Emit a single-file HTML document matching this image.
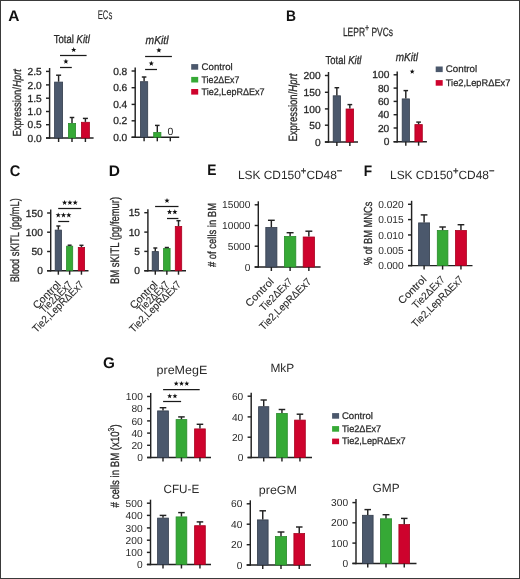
<!DOCTYPE html>
<html><head><meta charset="utf-8"><style>
html,body{margin:0;padding:0;background:#fff;}
svg{display:block;font-family:"Liberation Sans", sans-serif;text-rendering:geometricPrecision;will-change:transform;}
text{stroke:#2a2a2a;stroke-width:0.3px;}
text[font-weight=bold]{stroke:none;}
</style></head><body>
<svg width="520" height="579" viewBox="0 0 520 579">
<rect x="0" y="0" width="520" height="579" fill="#fff"/>
<text x="8.3" y="21.0" font-size="15.3" text-anchor="start" fill="#111" font-weight="bold" textLength="11.2" lengthAdjust="spacingAndGlyphs">A</text>
<text x="97.7" y="19.1" font-size="12.5" text-anchor="start" fill="#2a2a2a" textLength="14.6" lengthAdjust="spacingAndGlyphs" style="stroke-width:0.1px">ECs</text>
<text x="53.8" y="43.3" font-size="11.6" text-anchor="start" fill="#2a2a2a" textLength="36" lengthAdjust="spacingAndGlyphs">Total <tspan font-style="italic">Kitl</tspan></text>
<line x1="49.6" y1="68" x2="49.6" y2="138.725" stroke="#222" stroke-width="1.45"/>
<line x1="46.0" y1="138" x2="93.6" y2="138" stroke="#222" stroke-width="1.45"/>
<line x1="46.0" y1="71.4" x2="49.6" y2="71.4" stroke="#222" stroke-width="1.45"/>
<text x="41.7" y="75.072" font-size="10.2" text-anchor="end" fill="#2a2a2a">2.5</text>
<line x1="46.0" y1="84.9" x2="49.6" y2="84.9" stroke="#222" stroke-width="1.45"/>
<text x="41.7" y="88.572" font-size="10.2" text-anchor="end" fill="#2a2a2a">2.0</text>
<line x1="46.0" y1="98.2" x2="49.6" y2="98.2" stroke="#222" stroke-width="1.45"/>
<text x="41.7" y="101.872" font-size="10.2" text-anchor="end" fill="#2a2a2a">1.5</text>
<line x1="46.0" y1="111.5" x2="49.6" y2="111.5" stroke="#222" stroke-width="1.45"/>
<text x="41.7" y="115.172" font-size="10.2" text-anchor="end" fill="#2a2a2a">1.0</text>
<line x1="46.0" y1="124.7" x2="49.6" y2="124.7" stroke="#222" stroke-width="1.45"/>
<text x="41.7" y="128.372" font-size="10.2" text-anchor="end" fill="#2a2a2a">0.5</text>
<line x1="46.0" y1="138" x2="49.6" y2="138" stroke="#222" stroke-width="1.45"/>
<text x="41.7" y="141.672" font-size="10.2" text-anchor="end" fill="#2a2a2a">0.0</text>
<rect x="54.60" y="82.10" width="8.00" height="55.90" fill="#4b586c" stroke="#333c4c" stroke-width="0.8"/>
<line x1="58.6" y1="75.2" x2="58.6" y2="81.7" stroke="#222" stroke-width="1.45"/>
<line x1="56.092" y1="75.2" x2="61.108000000000004" y2="75.2" stroke="#222" stroke-width="1.45"/>
<line x1="58.6" y1="138" x2="58.6" y2="142.0" stroke="#222" stroke-width="1.45"/>
<rect x="68.40" y="123.40" width="7.20" height="14.60" fill="#36a936" stroke="#2a8a2c" stroke-width="0.8"/>
<line x1="72.0" y1="117.5" x2="72.0" y2="123" stroke="#222" stroke-width="1.45"/>
<line x1="69.72" y1="117.5" x2="74.28" y2="117.5" stroke="#222" stroke-width="1.45"/>
<line x1="72.0" y1="138" x2="72.0" y2="142.0" stroke="#222" stroke-width="1.45"/>
<rect x="81.40" y="122.30" width="8.00" height="15.70" fill="#ce032d" stroke="#a8021f" stroke-width="0.8"/>
<line x1="85.4" y1="118.4" x2="85.4" y2="121.9" stroke="#222" stroke-width="1.45"/>
<line x1="82.89200000000001" y1="118.4" x2="87.908" y2="118.4" stroke="#222" stroke-width="1.45"/>
<line x1="85.4" y1="138" x2="85.4" y2="142.0" stroke="#222" stroke-width="1.45"/>
<line x1="60" y1="55.5" x2="86.6" y2="55.5" stroke="#1a1a1a" stroke-width="1.25"/>
<polygon points="73.70,47.12 74.38,48.94 76.32,49.03 74.80,50.23 75.32,52.10 73.70,51.03 72.08,52.10 72.60,50.23 71.08,49.03 73.02,48.94" fill="#111"/>
<line x1="60" y1="67.5" x2="71.8" y2="67.5" stroke="#1a1a1a" stroke-width="1.25"/>
<polygon points="65.90,58.73 66.58,60.54 68.52,60.63 67.00,61.83 67.52,63.70 65.90,62.63 64.28,63.70 64.80,61.83 63.28,60.63 65.22,60.54" fill="#111"/>
<text transform="translate(16.5,102.8) rotate(-90)" x="-33.75" y="4.095" font-size="11.7" fill="#2a2a2a" textLength="67.5" lengthAdjust="spacingAndGlyphs">Expression/<tspan font-style="italic">Hprt</tspan></text>
<text x="145.6" y="43.7" font-size="11.6" text-anchor="start" fill="#2a2a2a" font-style="italic" textLength="22.9" lengthAdjust="spacingAndGlyphs">mKitl</text>
<line x1="135.2" y1="67.5" x2="135.2" y2="138.025" stroke="#222" stroke-width="1.45"/>
<line x1="131.6" y1="137.3" x2="179.2" y2="137.3" stroke="#222" stroke-width="1.45"/>
<line x1="131.6" y1="71" x2="135.2" y2="71" stroke="#222" stroke-width="1.45"/>
<text x="127.3" y="74.672" font-size="10.2" text-anchor="end" fill="#2a2a2a">0.8</text>
<line x1="131.6" y1="87.7" x2="135.2" y2="87.7" stroke="#222" stroke-width="1.45"/>
<text x="127.3" y="91.372" font-size="10.2" text-anchor="end" fill="#2a2a2a">0.6</text>
<line x1="131.6" y1="104.4" x2="135.2" y2="104.4" stroke="#222" stroke-width="1.45"/>
<text x="127.3" y="108.072" font-size="10.2" text-anchor="end" fill="#2a2a2a">0.4</text>
<line x1="131.6" y1="120.8" x2="135.2" y2="120.8" stroke="#222" stroke-width="1.45"/>
<text x="127.3" y="124.472" font-size="10.2" text-anchor="end" fill="#2a2a2a">0.2</text>
<line x1="131.6" y1="137.3" x2="135.2" y2="137.3" stroke="#222" stroke-width="1.45"/>
<text x="127.3" y="140.972" font-size="10.2" text-anchor="end" fill="#2a2a2a">0.0</text>
<rect x="140.50" y="81.70" width="7.20" height="55.60" fill="#4b586c" stroke="#333c4c" stroke-width="0.8"/>
<line x1="144.1" y1="77" x2="144.1" y2="81.3" stroke="#222" stroke-width="1.45"/>
<line x1="141.82" y1="77" x2="146.38" y2="77" stroke="#222" stroke-width="1.45"/>
<line x1="144.1" y1="137.3" x2="144.1" y2="141.3" stroke="#222" stroke-width="1.45"/>
<rect x="153.70" y="132.50" width="7.20" height="4.80" fill="#36a936" stroke="#2a8a2c" stroke-width="0.8"/>
<line x1="157.3" y1="125.4" x2="157.3" y2="132.1" stroke="#222" stroke-width="1.45"/>
<line x1="155.02" y1="125.4" x2="159.58" y2="125.4" stroke="#222" stroke-width="1.45"/>
<line x1="157.3" y1="137.3" x2="157.3" y2="141.3" stroke="#222" stroke-width="1.45"/>
<line x1="170.3" y1="137.3" x2="170.3" y2="141.3" stroke="#222" stroke-width="1.45"/>
<text x="170.5" y="135.2" font-size="10.5" text-anchor="middle" fill="#2a2a2a" style="stroke:none">0</text>
<line x1="145.1" y1="56.5" x2="171.9" y2="56.5" stroke="#1a1a1a" stroke-width="1.25"/>
<polygon points="158.90,47.52 159.58,49.34 161.52,49.43 160.00,50.63 160.52,52.50 158.90,51.43 157.28,52.50 157.80,50.63 156.28,49.43 158.22,49.34" fill="#111"/>
<line x1="145.1" y1="69.5" x2="157" y2="69.5" stroke="#1a1a1a" stroke-width="1.25"/>
<polygon points="151.30,60.73 151.98,62.54 153.92,62.63 152.40,63.83 152.92,65.70 151.30,64.63 149.68,65.70 150.20,63.83 148.68,62.63 150.62,62.54" fill="#111"/>
<rect x="191.2" y="64.10000000000001" width="7" height="5.6" fill="#4b586c"/>
<text x="201.6" y="69.9" font-size="9.6" text-anchor="start" fill="#2a2a2a" textLength="31.1" lengthAdjust="spacingAndGlyphs" style="stroke-width:0.25px">Control</text>
<rect x="191.2" y="76.9" width="7" height="5.6" fill="#36a936"/>
<text x="201.6" y="82.7" font-size="9.6" text-anchor="start" fill="#2a2a2a" textLength="37.7" lengthAdjust="spacingAndGlyphs" style="stroke-width:0.25px">Tie2ΔEx7</text>
<rect x="191.2" y="89.0" width="7" height="5.6" fill="#ce032d"/>
<text x="201.6" y="94.8" font-size="9.6" text-anchor="start" fill="#2a2a2a" textLength="63" lengthAdjust="spacingAndGlyphs" style="stroke-width:0.25px">Tie2,LepRΔEx7</text>
<text x="285.9" y="21.1" font-size="15.3" text-anchor="start" fill="#111" font-weight="bold" textLength="10" lengthAdjust="spacingAndGlyphs">B</text>
<text x="342.9" y="36.1" font-size="12" text-anchor="start" fill="#2a2a2a" textLength="50.2" lengthAdjust="spacingAndGlyphs" style="stroke-width:0.25px">LEPR<tspan dy="-4.6" font-size="10">+</tspan><tspan dy="4.6"> PVCs</tspan></text>
<text x="325.6" y="64.4" font-size="11.6" text-anchor="start" fill="#2a2a2a" textLength="35.8" lengthAdjust="spacingAndGlyphs">Total <tspan font-style="italic">Kitl</tspan></text>
<line x1="328.5" y1="72" x2="328.5" y2="142.725" stroke="#222" stroke-width="1.45"/>
<line x1="324.9" y1="142" x2="358" y2="142" stroke="#222" stroke-width="1.45"/>
<line x1="324.9" y1="75.5" x2="328.5" y2="75.5" stroke="#222" stroke-width="1.45"/>
<text x="320.59999999999997" y="79.172" font-size="10.2" text-anchor="end" fill="#2a2a2a">200</text>
<line x1="324.9" y1="92.3" x2="328.5" y2="92.3" stroke="#222" stroke-width="1.45"/>
<text x="320.59999999999997" y="95.972" font-size="10.2" text-anchor="end" fill="#2a2a2a">150</text>
<line x1="324.9" y1="108.9" x2="328.5" y2="108.9" stroke="#222" stroke-width="1.45"/>
<text x="320.59999999999997" y="112.572" font-size="10.2" text-anchor="end" fill="#2a2a2a">100</text>
<line x1="324.9" y1="125.2" x2="328.5" y2="125.2" stroke="#222" stroke-width="1.45"/>
<text x="320.59999999999997" y="128.872" font-size="10.2" text-anchor="end" fill="#2a2a2a">50</text>
<line x1="324.9" y1="142" x2="328.5" y2="142" stroke="#222" stroke-width="1.45"/>
<text x="320.59999999999997" y="145.672" font-size="10.2" text-anchor="end" fill="#2a2a2a">0</text>
<rect x="333.20" y="95.80" width="7.30" height="46.20" fill="#4b586c" stroke="#333c4c" stroke-width="0.8"/>
<line x1="336.85" y1="87.7" x2="336.85" y2="95.4" stroke="#222" stroke-width="1.45"/>
<line x1="334.54150000000004" y1="87.7" x2="339.1585" y2="87.7" stroke="#222" stroke-width="1.45"/>
<line x1="336.85" y1="142" x2="336.85" y2="146.0" stroke="#222" stroke-width="1.45"/>
<rect x="346.10" y="109.00" width="7.50" height="33.00" fill="#ce032d" stroke="#a8021f" stroke-width="0.8"/>
<line x1="349.85" y1="104.6" x2="349.85" y2="108.6" stroke="#222" stroke-width="1.45"/>
<line x1="347.4845" y1="104.6" x2="352.2155" y2="104.6" stroke="#222" stroke-width="1.45"/>
<line x1="349.85" y1="142" x2="349.85" y2="146.0" stroke="#222" stroke-width="1.45"/>
<text transform="translate(292.4,107.6) rotate(-90)" x="-34.0" y="4.199999999999999" font-size="12" fill="#2a2a2a" textLength="68" lengthAdjust="spacingAndGlyphs">Expression/<tspan font-style="italic">Hprt</tspan></text>
<text x="395.8" y="61.3" font-size="11.6" text-anchor="start" fill="#2a2a2a" font-style="italic" textLength="22.2" lengthAdjust="spacingAndGlyphs">mKitl</text>
<line x1="397.2" y1="71.4" x2="397.2" y2="142.42499999999998" stroke="#222" stroke-width="1.45"/>
<line x1="393.59999999999997" y1="141.7" x2="426.9" y2="141.7" stroke="#222" stroke-width="1.45"/>
<line x1="393.59999999999997" y1="74.8" x2="397.2" y2="74.8" stroke="#222" stroke-width="1.45"/>
<text x="389.29999999999995" y="78.472" font-size="10.2" text-anchor="end" fill="#2a2a2a">100</text>
<line x1="393.59999999999997" y1="88.1" x2="397.2" y2="88.1" stroke="#222" stroke-width="1.45"/>
<text x="389.29999999999995" y="91.77199999999999" font-size="10.2" text-anchor="end" fill="#2a2a2a">80</text>
<line x1="393.59999999999997" y1="101.4" x2="397.2" y2="101.4" stroke="#222" stroke-width="1.45"/>
<text x="389.29999999999995" y="105.072" font-size="10.2" text-anchor="end" fill="#2a2a2a">60</text>
<line x1="393.59999999999997" y1="114.7" x2="397.2" y2="114.7" stroke="#222" stroke-width="1.45"/>
<text x="389.29999999999995" y="118.372" font-size="10.2" text-anchor="end" fill="#2a2a2a">40</text>
<line x1="393.59999999999997" y1="128" x2="397.2" y2="128" stroke="#222" stroke-width="1.45"/>
<text x="389.29999999999995" y="131.672" font-size="10.2" text-anchor="end" fill="#2a2a2a">20</text>
<line x1="393.59999999999997" y1="141.7" x2="397.2" y2="141.7" stroke="#222" stroke-width="1.45"/>
<text x="389.29999999999995" y="145.37199999999999" font-size="10.2" text-anchor="end" fill="#2a2a2a">0</text>
<rect x="402.20" y="98.90" width="7.20" height="42.80" fill="#4b586c" stroke="#333c4c" stroke-width="0.8"/>
<line x1="405.8" y1="90.6" x2="405.8" y2="98.5" stroke="#222" stroke-width="1.45"/>
<line x1="403.52000000000004" y1="90.6" x2="408.08" y2="90.6" stroke="#222" stroke-width="1.45"/>
<line x1="405.8" y1="141.7" x2="405.8" y2="145.7" stroke="#222" stroke-width="1.45"/>
<rect x="414.90" y="124.60" width="7.40" height="17.10" fill="#ce032d" stroke="#a8021f" stroke-width="0.8"/>
<line x1="418.6" y1="122.1" x2="418.6" y2="124.2" stroke="#222" stroke-width="1.45"/>
<line x1="416.26300000000003" y1="122.1" x2="420.937" y2="122.1" stroke="#222" stroke-width="1.45"/>
<line x1="418.6" y1="141.7" x2="418.6" y2="145.7" stroke="#222" stroke-width="1.45"/>
<polygon points="412.20,68.96 412.84,70.68 414.67,70.76 413.24,71.90 413.73,73.66 412.20,72.65 410.67,73.66 411.16,71.90 409.73,70.76 411.56,70.68" fill="#111"/>
<rect x="435.7" y="66.5" width="7" height="5.6" fill="#4b586c"/>
<text x="445.8" y="72.3" font-size="9.6" text-anchor="start" fill="#2a2a2a" textLength="31.4" lengthAdjust="spacingAndGlyphs" style="stroke-width:0.25px">Control</text>
<rect x="435.7" y="80.10000000000001" width="7" height="5.6" fill="#ce032d"/>
<text x="445.8" y="85.9" font-size="9.6" text-anchor="start" fill="#2a2a2a" textLength="64.6" lengthAdjust="spacingAndGlyphs" style="stroke-width:0.25px">Tie2,LepRΔEx7</text>
<text x="9.7" y="175.7" font-size="15.3" text-anchor="start" fill="#111" font-weight="bold" textLength="10.6" lengthAdjust="spacingAndGlyphs">C</text>
<line x1="50.7" y1="209.5" x2="50.7" y2="271.425" stroke="#222" stroke-width="1.45"/>
<line x1="47.1" y1="270.7" x2="88.5" y2="270.7" stroke="#222" stroke-width="1.45"/>
<line x1="47.1" y1="213" x2="50.7" y2="213" stroke="#222" stroke-width="1.45"/>
<text x="42.800000000000004" y="216.672" font-size="10.2" text-anchor="end" fill="#2a2a2a">150</text>
<line x1="47.1" y1="232.2" x2="50.7" y2="232.2" stroke="#222" stroke-width="1.45"/>
<text x="42.800000000000004" y="235.87199999999999" font-size="10.2" text-anchor="end" fill="#2a2a2a">100</text>
<line x1="47.1" y1="251.5" x2="50.7" y2="251.5" stroke="#222" stroke-width="1.45"/>
<text x="42.800000000000004" y="255.172" font-size="10.2" text-anchor="end" fill="#2a2a2a">50</text>
<line x1="47.1" y1="270.7" x2="50.7" y2="270.7" stroke="#222" stroke-width="1.45"/>
<text x="42.800000000000004" y="274.372" font-size="10.2" text-anchor="end" fill="#2a2a2a">0</text>
<rect x="55.20" y="230.10" width="6.30" height="40.60" fill="#4b586c" stroke="#333c4c" stroke-width="0.8"/>
<line x1="58.349999999999994" y1="226" x2="58.349999999999994" y2="229.7" stroke="#222" stroke-width="1.45"/>
<line x1="56.326499999999996" y1="226" x2="60.37349999999999" y2="226" stroke="#222" stroke-width="1.45"/>
<line x1="58.349999999999994" y1="270.7" x2="58.349999999999994" y2="274.7" stroke="#222" stroke-width="1.45"/>
<rect x="66.60" y="246.20" width="6.10" height="24.50" fill="#36a936" stroke="#2a8a2c" stroke-width="0.8"/>
<line x1="69.65" y1="245.2" x2="69.65" y2="245.8" stroke="#222" stroke-width="1.45"/>
<line x1="67.68350000000001" y1="245.2" x2="71.6165" y2="245.2" stroke="#222" stroke-width="1.45"/>
<line x1="69.65" y1="270.7" x2="69.65" y2="274.7" stroke="#222" stroke-width="1.45"/>
<rect x="78.30" y="247.50" width="6.30" height="23.20" fill="#ce032d" stroke="#a8021f" stroke-width="0.8"/>
<line x1="81.45" y1="245.3" x2="81.45" y2="247.1" stroke="#222" stroke-width="1.45"/>
<line x1="79.4265" y1="245.3" x2="83.4735" y2="245.3" stroke="#222" stroke-width="1.45"/>
<line x1="81.45" y1="270.7" x2="81.45" y2="274.7" stroke="#222" stroke-width="1.45"/>
<line x1="58.2" y1="208.5" x2="81.2" y2="208.5" stroke="#1a1a1a" stroke-width="1.25"/>
<polygon points="64.60,199.93 65.28,201.74 67.22,201.83 65.70,203.03 66.22,204.90 64.60,203.83 62.98,204.90 63.50,203.03 61.98,201.83 63.92,201.74" fill="#111"/>
<polygon points="69.90,199.93 70.58,201.74 72.52,201.83 71.00,203.03 71.52,204.90 69.90,203.83 68.28,204.90 68.80,203.03 67.28,201.83 69.22,201.74" fill="#111"/>
<polygon points="75.20,199.93 75.88,201.74 77.82,201.83 76.30,203.03 76.82,204.90 75.20,203.83 73.58,204.90 74.10,203.03 72.58,201.83 74.52,201.74" fill="#111"/>
<line x1="58.2" y1="221.5" x2="69.2" y2="221.5" stroke="#1a1a1a" stroke-width="1.25"/>
<polygon points="58.20,212.43 58.88,214.24 60.82,214.33 59.30,215.53 59.82,217.40 58.20,216.33 56.58,217.40 57.10,215.53 55.58,214.33 57.52,214.24" fill="#111"/>
<polygon points="63.50,212.43 64.18,214.24 66.12,214.33 64.60,215.53 65.12,217.40 63.50,216.33 61.88,217.40 62.40,215.53 60.88,214.33 62.82,214.24" fill="#111"/>
<polygon points="68.80,212.43 69.48,214.24 71.42,214.33 69.90,215.53 70.42,217.40 68.80,216.33 67.18,217.40 67.70,215.53 66.18,214.33 68.12,214.24" fill="#111"/>
<text transform="translate(14.7,240.3) rotate(-90)" x="-42.0" y="4.34" font-size="12.4" fill="#2a2a2a" textLength="84" lengthAdjust="spacingAndGlyphs">Blood sKITL (pg/mL)</text>
<text x="108.8" y="175.5" font-size="15.3" text-anchor="start" fill="#111" font-weight="bold" textLength="11.2" lengthAdjust="spacingAndGlyphs">D</text>
<line x1="147.9" y1="209.2" x2="147.9" y2="271.425" stroke="#222" stroke-width="1.45"/>
<line x1="144.3" y1="270.7" x2="186" y2="270.7" stroke="#222" stroke-width="1.45"/>
<line x1="144.3" y1="212.7" x2="147.9" y2="212.7" stroke="#222" stroke-width="1.45"/>
<text x="140.0" y="216.37199999999999" font-size="10.2" text-anchor="end" fill="#2a2a2a">15</text>
<line x1="144.3" y1="232.1" x2="147.9" y2="232.1" stroke="#222" stroke-width="1.45"/>
<text x="140.0" y="235.772" font-size="10.2" text-anchor="end" fill="#2a2a2a">10</text>
<line x1="144.3" y1="251.4" x2="147.9" y2="251.4" stroke="#222" stroke-width="1.45"/>
<text x="140.0" y="255.072" font-size="10.2" text-anchor="end" fill="#2a2a2a">5</text>
<line x1="144.3" y1="270.7" x2="147.9" y2="270.7" stroke="#222" stroke-width="1.45"/>
<text x="140.0" y="274.372" font-size="10.2" text-anchor="end" fill="#2a2a2a">0</text>
<rect x="152.20" y="251.60" width="6.20" height="19.10" fill="#4b586c" stroke="#333c4c" stroke-width="0.8"/>
<line x1="155.3" y1="248" x2="155.3" y2="251.2" stroke="#222" stroke-width="1.45"/>
<line x1="153.305" y1="248" x2="157.29500000000002" y2="248" stroke="#222" stroke-width="1.45"/>
<line x1="155.3" y1="270.7" x2="155.3" y2="274.7" stroke="#222" stroke-width="1.45"/>
<rect x="163.60" y="248.50" width="6.50" height="22.20" fill="#36a936" stroke="#2a8a2c" stroke-width="0.8"/>
<line x1="166.85" y1="247.5" x2="166.85" y2="248.1" stroke="#222" stroke-width="1.45"/>
<line x1="164.7695" y1="247.5" x2="168.9305" y2="247.5" stroke="#222" stroke-width="1.45"/>
<line x1="166.85" y1="270.7" x2="166.85" y2="274.7" stroke="#222" stroke-width="1.45"/>
<rect x="175.30" y="226.50" width="6.40" height="44.20" fill="#ce032d" stroke="#a8021f" stroke-width="0.8"/>
<line x1="178.5" y1="220.7" x2="178.5" y2="226.1" stroke="#222" stroke-width="1.45"/>
<line x1="176.448" y1="220.7" x2="180.552" y2="220.7" stroke="#222" stroke-width="1.45"/>
<line x1="178.5" y1="270.7" x2="178.5" y2="274.7" stroke="#222" stroke-width="1.45"/>
<line x1="155.1" y1="206.5" x2="178.5" y2="206.5" stroke="#1a1a1a" stroke-width="1.25"/>
<polygon points="167.00,197.93 167.68,199.74 169.62,199.83 168.10,201.03 168.62,202.90 167.00,201.83 165.38,202.90 165.90,201.03 164.38,199.83 166.32,199.74" fill="#111"/>
<line x1="167" y1="218.5" x2="178.4" y2="218.5" stroke="#1a1a1a" stroke-width="1.25"/>
<polygon points="169.55,209.22 170.23,211.04 172.17,211.13 170.65,212.33 171.17,214.20 169.55,213.13 167.93,214.20 168.45,212.33 166.93,211.13 168.87,211.04" fill="#111"/>
<polygon points="174.85,209.22 175.53,211.04 177.47,211.13 175.95,212.33 176.47,214.20 174.85,213.13 173.23,214.20 173.75,212.33 172.23,211.13 174.17,211.04" fill="#111"/>
<text transform="translate(114.65,240.4) rotate(-90)" x="-43.5" y="4.34" font-size="12.4" fill="#2a2a2a" textLength="87" lengthAdjust="spacingAndGlyphs">BM sKITL (pg/femur)</text>
<text x="207.3" y="175.4" font-size="15.3" text-anchor="start" fill="#111" font-weight="bold" textLength="9.2" lengthAdjust="spacingAndGlyphs">E</text>
<text x="237.9" y="178.6" font-size="12" text-anchor="start" fill="#2a2a2a" textLength="104.5" lengthAdjust="spacingAndGlyphs" style="stroke:none">LSK CD150<tspan dy="-4.3" font-size="9.5" style="stroke:#2a2a2a;stroke-width:0.3px">+</tspan><tspan dy="4.3">CD48</tspan><tspan dy="-4.3" font-size="9.5" style="stroke:#2a2a2a;stroke-width:0.35px">−</tspan></text>
<line x1="258.3" y1="201.3" x2="258.3" y2="267.725" stroke="#222" stroke-width="1.45"/>
<line x1="254.70000000000002" y1="267" x2="320.6" y2="267" stroke="#222" stroke-width="1.45"/>
<line x1="254.70000000000002" y1="204.8" x2="258.3" y2="204.8" stroke="#222" stroke-width="1.45"/>
<text x="250.4" y="208.472" font-size="10.2" text-anchor="end" fill="#2a2a2a" style="stroke:none">15000</text>
<line x1="254.70000000000002" y1="225.5" x2="258.3" y2="225.5" stroke="#222" stroke-width="1.45"/>
<text x="250.4" y="229.172" font-size="10.2" text-anchor="end" fill="#2a2a2a" style="stroke:none">10000</text>
<line x1="254.70000000000002" y1="246.2" x2="258.3" y2="246.2" stroke="#222" stroke-width="1.45"/>
<text x="250.4" y="249.87199999999999" font-size="10.2" text-anchor="end" fill="#2a2a2a" style="stroke:none">5000</text>
<line x1="254.70000000000002" y1="267" x2="258.3" y2="267" stroke="#222" stroke-width="1.45"/>
<text x="250.4" y="270.672" font-size="10.2" text-anchor="end" fill="#2a2a2a" style="stroke:none">0</text>
<rect x="265.80" y="227.50" width="11.10" height="39.50" fill="#4b586c" stroke="#333c4c" stroke-width="0.8"/>
<line x1="271.35" y1="220.3" x2="271.35" y2="227.1" stroke="#222" stroke-width="1.45"/>
<line x1="267.9585" y1="220.3" x2="274.74150000000003" y2="220.3" stroke="#222" stroke-width="1.45"/>
<line x1="271.35" y1="267" x2="271.35" y2="271.0" stroke="#222" stroke-width="1.45"/>
<rect x="284.40" y="236.40" width="11.40" height="30.60" fill="#36a936" stroke="#2a8a2c" stroke-width="0.8"/>
<line x1="290.1" y1="232.7" x2="290.1" y2="236" stroke="#222" stroke-width="1.45"/>
<line x1="286.62300000000005" y1="232.7" x2="293.577" y2="232.7" stroke="#222" stroke-width="1.45"/>
<line x1="290.1" y1="267" x2="290.1" y2="271.0" stroke="#222" stroke-width="1.45"/>
<rect x="303.20" y="237.00" width="11.30" height="30.00" fill="#ce032d" stroke="#a8021f" stroke-width="0.8"/>
<line x1="308.85" y1="231.2" x2="308.85" y2="236.6" stroke="#222" stroke-width="1.45"/>
<line x1="305.40150000000006" y1="231.2" x2="312.2985" y2="231.2" stroke="#222" stroke-width="1.45"/>
<line x1="308.85" y1="267" x2="308.85" y2="271.0" stroke="#222" stroke-width="1.45"/>
<text transform="translate(211.4,235.0) rotate(-90)" x="-32.0" y="4.095" font-size="11.7" fill="#2a2a2a" textLength="64" lengthAdjust="spacingAndGlyphs"># of cells in BM</text>
<text x="363.7" y="175.9" font-size="15.3" text-anchor="start" fill="#111" font-weight="bold" textLength="8.4" lengthAdjust="spacingAndGlyphs">F</text>
<text x="390.0" y="178.5" font-size="12" text-anchor="start" fill="#2a2a2a" textLength="104.5" lengthAdjust="spacingAndGlyphs" style="stroke:none">LSK CD150<tspan dy="-4.3" font-size="9.5" style="stroke:#2a2a2a;stroke-width:0.3px">+</tspan><tspan dy="4.3">CD48</tspan><tspan dy="-4.3" font-size="9.5" style="stroke:#2a2a2a;stroke-width:0.35px">−</tspan></text>
<line x1="411.6" y1="200.8" x2="411.6" y2="266.32500000000005" stroke="#222" stroke-width="1.45"/>
<line x1="408.0" y1="265.6" x2="472.5" y2="265.6" stroke="#222" stroke-width="1.45"/>
<line x1="408.0" y1="204.3" x2="411.6" y2="204.3" stroke="#222" stroke-width="1.45"/>
<text x="403.7" y="207.972" font-size="10.2" text-anchor="end" fill="#2a2a2a" style="stroke:none">0.020</text>
<line x1="408.0" y1="219.6" x2="411.6" y2="219.6" stroke="#222" stroke-width="1.45"/>
<text x="403.7" y="223.272" font-size="10.2" text-anchor="end" fill="#2a2a2a" style="stroke:none">0.015</text>
<line x1="408.0" y1="234.95" x2="411.6" y2="234.95" stroke="#222" stroke-width="1.45"/>
<text x="403.7" y="238.62199999999999" font-size="10.2" text-anchor="end" fill="#2a2a2a" style="stroke:none">0.010</text>
<line x1="408.0" y1="250.3" x2="411.6" y2="250.3" stroke="#222" stroke-width="1.45"/>
<text x="403.7" y="253.972" font-size="10.2" text-anchor="end" fill="#2a2a2a" style="stroke:none">0.005</text>
<line x1="408.0" y1="265.6" x2="411.6" y2="265.6" stroke="#222" stroke-width="1.45"/>
<text x="403.7" y="269.27200000000005" font-size="10.2" text-anchor="end" fill="#2a2a2a" style="stroke:none">0.000</text>
<rect x="418.60" y="222.90" width="11.00" height="42.70" fill="#4b586c" stroke="#333c4c" stroke-width="0.8"/>
<line x1="424.1" y1="214.9" x2="424.1" y2="222.5" stroke="#222" stroke-width="1.45"/>
<line x1="420.737" y1="214.9" x2="427.463" y2="214.9" stroke="#222" stroke-width="1.45"/>
<line x1="424.1" y1="265.6" x2="424.1" y2="269.6" stroke="#222" stroke-width="1.45"/>
<rect x="437.30" y="230.50" width="10.60" height="35.10" fill="#36a936" stroke="#2a8a2c" stroke-width="0.8"/>
<line x1="442.6" y1="227" x2="442.6" y2="230.1" stroke="#222" stroke-width="1.45"/>
<line x1="439.351" y1="227" x2="445.84900000000005" y2="227" stroke="#222" stroke-width="1.45"/>
<line x1="442.6" y1="265.6" x2="442.6" y2="269.6" stroke="#222" stroke-width="1.45"/>
<rect x="455.50" y="230.50" width="10.90" height="35.10" fill="#ce032d" stroke="#a8021f" stroke-width="0.8"/>
<line x1="460.95000000000005" y1="224.7" x2="460.95000000000005" y2="230.1" stroke="#222" stroke-width="1.45"/>
<line x1="457.61550000000005" y1="224.7" x2="464.28450000000004" y2="224.7" stroke="#222" stroke-width="1.45"/>
<line x1="460.95000000000005" y1="265.6" x2="460.95000000000005" y2="269.6" stroke="#222" stroke-width="1.45"/>
<text transform="translate(367.4,233.4) rotate(-90)" x="-31.75" y="4.095" font-size="11.7" fill="#2a2a2a" textLength="63.5" lengthAdjust="spacingAndGlyphs">% of BM MNCs</text>
<text x="102.9" y="367.8" font-size="15.3" text-anchor="start" fill="#111" font-weight="bold" textLength="11.9" lengthAdjust="spacingAndGlyphs">G</text>
<text x="156.5" y="374.2" font-size="12" text-anchor="start" fill="#2a2a2a" textLength="50.8" lengthAdjust="spacingAndGlyphs" style="stroke:none">preMegE</text>
<line x1="150.7" y1="393" x2="150.7" y2="458.225" stroke="#222" stroke-width="1.45"/>
<line x1="147.1" y1="457.5" x2="211" y2="457.5" stroke="#222" stroke-width="1.45"/>
<line x1="147.1" y1="396.5" x2="150.7" y2="396.5" stroke="#222" stroke-width="1.45"/>
<text x="142.79999999999998" y="400.172" font-size="10.2" text-anchor="end" fill="#2a2a2a" style="stroke:none">100</text>
<line x1="147.1" y1="408.6" x2="150.7" y2="408.6" stroke="#222" stroke-width="1.45"/>
<text x="142.79999999999998" y="412.27200000000005" font-size="10.2" text-anchor="end" fill="#2a2a2a" style="stroke:none">80</text>
<line x1="147.1" y1="420.9" x2="150.7" y2="420.9" stroke="#222" stroke-width="1.45"/>
<text x="142.79999999999998" y="424.572" font-size="10.2" text-anchor="end" fill="#2a2a2a" style="stroke:none">60</text>
<line x1="147.1" y1="433.1" x2="150.7" y2="433.1" stroke="#222" stroke-width="1.45"/>
<text x="142.79999999999998" y="436.77200000000005" font-size="10.2" text-anchor="end" fill="#2a2a2a" style="stroke:none">40</text>
<line x1="147.1" y1="445.3" x2="150.7" y2="445.3" stroke="#222" stroke-width="1.45"/>
<text x="142.79999999999998" y="448.97200000000004" font-size="10.2" text-anchor="end" fill="#2a2a2a" style="stroke:none">20</text>
<line x1="147.1" y1="457.5" x2="150.7" y2="457.5" stroke="#222" stroke-width="1.45"/>
<text x="142.79999999999998" y="461.172" font-size="10.2" text-anchor="end" fill="#2a2a2a" style="stroke:none">0</text>
<rect x="157.60" y="410.90" width="10.80" height="46.60" fill="#4b586c" stroke="#333c4c" stroke-width="0.8"/>
<line x1="163.0" y1="407.7" x2="163.0" y2="410.5" stroke="#222" stroke-width="1.45"/>
<line x1="159.694" y1="407.7" x2="166.306" y2="407.7" stroke="#222" stroke-width="1.45"/>
<line x1="163.0" y1="457.5" x2="163.0" y2="461.5" stroke="#222" stroke-width="1.45"/>
<rect x="176.10" y="419.60" width="10.70" height="37.90" fill="#36a936" stroke="#2a8a2c" stroke-width="0.8"/>
<line x1="181.45" y1="416.9" x2="181.45" y2="419.2" stroke="#222" stroke-width="1.45"/>
<line x1="178.17249999999999" y1="416.9" x2="184.7275" y2="416.9" stroke="#222" stroke-width="1.45"/>
<line x1="181.45" y1="457.5" x2="181.45" y2="461.5" stroke="#222" stroke-width="1.45"/>
<rect x="194.60" y="428.90" width="10.70" height="28.60" fill="#ce032d" stroke="#a8021f" stroke-width="0.8"/>
<line x1="199.95" y1="424.3" x2="199.95" y2="428.5" stroke="#222" stroke-width="1.45"/>
<line x1="196.67249999999999" y1="424.3" x2="203.2275" y2="424.3" stroke="#222" stroke-width="1.45"/>
<line x1="199.95" y1="457.5" x2="199.95" y2="461.5" stroke="#222" stroke-width="1.45"/>
<line x1="163.1" y1="389.5" x2="199.7" y2="389.5" stroke="#1a1a1a" stroke-width="1.25"/>
<polygon points="176.20,380.96 176.84,382.68 178.67,382.76 177.24,383.90 177.73,385.66 176.20,384.65 174.67,385.66 175.16,383.90 173.73,382.76 175.56,382.68" fill="#111"/>
<polygon points="181.50,380.96 182.14,382.68 183.97,382.76 182.54,383.90 183.03,385.66 181.50,384.65 179.97,385.66 180.46,383.90 179.03,382.76 180.86,382.68" fill="#111"/>
<polygon points="186.80,380.96 187.44,382.68 189.27,382.76 187.84,383.90 188.33,385.66 186.80,384.65 185.27,385.66 185.76,383.90 184.33,382.76 186.16,382.68" fill="#111"/>
<line x1="163.1" y1="401.5" x2="181.1" y2="401.5" stroke="#1a1a1a" stroke-width="1.25"/>
<polygon points="169.65,393.56 170.29,395.28 172.12,395.36 170.69,396.50 171.18,398.26 169.65,397.25 168.12,398.26 168.61,396.50 167.18,395.36 169.01,395.28" fill="#111"/>
<polygon points="174.95,393.56 175.59,395.28 177.42,395.36 175.99,396.50 176.48,398.26 174.95,397.25 173.42,398.26 173.91,396.50 172.48,395.36 174.31,395.28" fill="#111"/>
<text x="270.4" y="372.4" font-size="12" text-anchor="start" fill="#2a2a2a" textLength="23.8" lengthAdjust="spacingAndGlyphs" style="stroke:none">MkP</text>
<line x1="251.2" y1="392.7" x2="251.2" y2="458.225" stroke="#222" stroke-width="1.45"/>
<line x1="247.6" y1="457.5" x2="312" y2="457.5" stroke="#222" stroke-width="1.45"/>
<line x1="247.6" y1="396.2" x2="251.2" y2="396.2" stroke="#222" stroke-width="1.45"/>
<text x="243.29999999999998" y="399.872" font-size="10.2" text-anchor="end" fill="#2a2a2a" style="stroke:none">60</text>
<line x1="247.6" y1="416.9" x2="251.2" y2="416.9" stroke="#222" stroke-width="1.45"/>
<text x="243.29999999999998" y="420.572" font-size="10.2" text-anchor="end" fill="#2a2a2a" style="stroke:none">40</text>
<line x1="247.6" y1="437.2" x2="251.2" y2="437.2" stroke="#222" stroke-width="1.45"/>
<text x="243.29999999999998" y="440.872" font-size="10.2" text-anchor="end" fill="#2a2a2a" style="stroke:none">20</text>
<line x1="247.6" y1="457.5" x2="251.2" y2="457.5" stroke="#222" stroke-width="1.45"/>
<text x="243.29999999999998" y="461.172" font-size="10.2" text-anchor="end" fill="#2a2a2a" style="stroke:none">0</text>
<rect x="258.60" y="406.70" width="10.20" height="50.80" fill="#4b586c" stroke="#333c4c" stroke-width="0.8"/>
<line x1="263.7" y1="400" x2="263.7" y2="406.3" stroke="#222" stroke-width="1.45"/>
<line x1="260.565" y1="400" x2="266.835" y2="400" stroke="#222" stroke-width="1.45"/>
<line x1="263.7" y1="457.5" x2="263.7" y2="461.5" stroke="#222" stroke-width="1.45"/>
<rect x="276.60" y="413.40" width="10.70" height="44.10" fill="#36a936" stroke="#2a8a2c" stroke-width="0.8"/>
<line x1="281.95" y1="409.5" x2="281.95" y2="413" stroke="#222" stroke-width="1.45"/>
<line x1="278.6725" y1="409.5" x2="285.22749999999996" y2="409.5" stroke="#222" stroke-width="1.45"/>
<line x1="281.95" y1="457.5" x2="281.95" y2="461.5" stroke="#222" stroke-width="1.45"/>
<rect x="294.60" y="420.10" width="10.70" height="37.40" fill="#ce032d" stroke="#a8021f" stroke-width="0.8"/>
<line x1="299.95" y1="414.2" x2="299.95" y2="419.7" stroke="#222" stroke-width="1.45"/>
<line x1="296.6725" y1="414.2" x2="303.22749999999996" y2="414.2" stroke="#222" stroke-width="1.45"/>
<line x1="299.95" y1="457.5" x2="299.95" y2="461.5" stroke="#222" stroke-width="1.45"/>
<rect x="332.1" y="413.09999999999997" width="7" height="5.6" fill="#4b586c"/>
<text x="341.9" y="418.9" font-size="9.6" text-anchor="start" fill="#2a2a2a" textLength="31" lengthAdjust="spacingAndGlyphs" style="stroke-width:0.25px">Control</text>
<rect x="332.1" y="426.09999999999997" width="7" height="5.6" fill="#36a936"/>
<text x="341.9" y="431.9" font-size="9.6" text-anchor="start" fill="#2a2a2a" textLength="39.2" lengthAdjust="spacingAndGlyphs" style="stroke-width:0.25px">Tie2ΔEx7</text>
<rect x="332.1" y="438.59999999999997" width="7" height="5.6" fill="#ce032d"/>
<text x="341.9" y="444.4" font-size="9.6" text-anchor="start" fill="#2a2a2a" textLength="63.7" lengthAdjust="spacingAndGlyphs" style="stroke-width:0.25px">Tie2,LepRΔEx7</text>
<text x="163.5" y="493" font-size="12" text-anchor="start" fill="#2a2a2a" textLength="35.7" lengthAdjust="spacingAndGlyphs" style="stroke:none">CFU-E</text>
<line x1="150.5" y1="499.7" x2="150.5" y2="565.225" stroke="#222" stroke-width="1.45"/>
<line x1="146.9" y1="564.5" x2="211" y2="564.5" stroke="#222" stroke-width="1.45"/>
<line x1="146.9" y1="503.2" x2="150.5" y2="503.2" stroke="#222" stroke-width="1.45"/>
<text x="142.6" y="506.872" font-size="10.2" text-anchor="end" fill="#2a2a2a" style="stroke:none">500</text>
<line x1="146.9" y1="515.4" x2="150.5" y2="515.4" stroke="#222" stroke-width="1.45"/>
<text x="142.6" y="519.072" font-size="10.2" text-anchor="end" fill="#2a2a2a" style="stroke:none">400</text>
<line x1="146.9" y1="527.9" x2="150.5" y2="527.9" stroke="#222" stroke-width="1.45"/>
<text x="142.6" y="531.572" font-size="10.2" text-anchor="end" fill="#2a2a2a" style="stroke:none">300</text>
<line x1="146.9" y1="540.2" x2="150.5" y2="540.2" stroke="#222" stroke-width="1.45"/>
<text x="142.6" y="543.8720000000001" font-size="10.2" text-anchor="end" fill="#2a2a2a" style="stroke:none">200</text>
<line x1="146.9" y1="552.4" x2="150.5" y2="552.4" stroke="#222" stroke-width="1.45"/>
<text x="142.6" y="556.072" font-size="10.2" text-anchor="end" fill="#2a2a2a" style="stroke:none">100</text>
<line x1="146.9" y1="564.5" x2="150.5" y2="564.5" stroke="#222" stroke-width="1.45"/>
<text x="142.6" y="568.172" font-size="10.2" text-anchor="end" fill="#2a2a2a" style="stroke:none">0</text>
<rect x="157.60" y="518.10" width="10.80" height="46.40" fill="#4b586c" stroke="#333c4c" stroke-width="0.8"/>
<line x1="163.0" y1="515.4" x2="163.0" y2="517.7" stroke="#222" stroke-width="1.45"/>
<line x1="159.694" y1="515.4" x2="166.306" y2="515.4" stroke="#222" stroke-width="1.45"/>
<line x1="163.0" y1="564.5" x2="163.0" y2="568.5" stroke="#222" stroke-width="1.45"/>
<rect x="176.10" y="516.90" width="10.70" height="47.60" fill="#36a936" stroke="#2a8a2c" stroke-width="0.8"/>
<line x1="181.45" y1="512.6" x2="181.45" y2="516.5" stroke="#222" stroke-width="1.45"/>
<line x1="178.17249999999999" y1="512.6" x2="184.7275" y2="512.6" stroke="#222" stroke-width="1.45"/>
<line x1="181.45" y1="564.5" x2="181.45" y2="568.5" stroke="#222" stroke-width="1.45"/>
<rect x="194.60" y="525.70" width="10.70" height="38.80" fill="#ce032d" stroke="#a8021f" stroke-width="0.8"/>
<line x1="199.95" y1="521.9" x2="199.95" y2="525.3" stroke="#222" stroke-width="1.45"/>
<line x1="196.67249999999999" y1="521.9" x2="203.2275" y2="521.9" stroke="#222" stroke-width="1.45"/>
<line x1="199.95" y1="564.5" x2="199.95" y2="568.5" stroke="#222" stroke-width="1.45"/>
<text x="258.8" y="494.2" font-size="12" text-anchor="start" fill="#2a2a2a" textLength="38.1" lengthAdjust="spacingAndGlyphs" style="stroke:none">preGM</text>
<line x1="250.3" y1="500.3" x2="250.3" y2="565.725" stroke="#222" stroke-width="1.45"/>
<line x1="246.70000000000002" y1="565" x2="311" y2="565" stroke="#222" stroke-width="1.45"/>
<line x1="246.70000000000002" y1="503.8" x2="250.3" y2="503.8" stroke="#222" stroke-width="1.45"/>
<text x="242.4" y="507.47200000000004" font-size="10.2" text-anchor="end" fill="#2a2a2a" style="stroke:none">60</text>
<line x1="246.70000000000002" y1="524.2" x2="250.3" y2="524.2" stroke="#222" stroke-width="1.45"/>
<text x="242.4" y="527.8720000000001" font-size="10.2" text-anchor="end" fill="#2a2a2a" style="stroke:none">40</text>
<line x1="246.70000000000002" y1="544.7" x2="250.3" y2="544.7" stroke="#222" stroke-width="1.45"/>
<text x="242.4" y="548.3720000000001" font-size="10.2" text-anchor="end" fill="#2a2a2a" style="stroke:none">20</text>
<line x1="246.70000000000002" y1="565" x2="250.3" y2="565" stroke="#222" stroke-width="1.45"/>
<text x="242.4" y="568.672" font-size="10.2" text-anchor="end" fill="#2a2a2a" style="stroke:none">0</text>
<rect x="257.40" y="519.90" width="10.70" height="45.10" fill="#4b586c" stroke="#333c4c" stroke-width="0.8"/>
<line x1="262.75" y1="510.8" x2="262.75" y2="519.5" stroke="#222" stroke-width="1.45"/>
<line x1="259.4725" y1="510.8" x2="266.0275" y2="510.8" stroke="#222" stroke-width="1.45"/>
<line x1="262.75" y1="565" x2="262.75" y2="569.0" stroke="#222" stroke-width="1.45"/>
<rect x="275.40" y="536.60" width="11.20" height="28.40" fill="#36a936" stroke="#2a8a2c" stroke-width="0.8"/>
<line x1="281.0" y1="532" x2="281.0" y2="536.2" stroke="#222" stroke-width="1.45"/>
<line x1="277.58" y1="532" x2="284.42" y2="532" stroke="#222" stroke-width="1.45"/>
<line x1="281.0" y1="565" x2="281.0" y2="569.0" stroke="#222" stroke-width="1.45"/>
<rect x="293.90" y="533.60" width="10.70" height="31.40" fill="#ce032d" stroke="#a8021f" stroke-width="0.8"/>
<line x1="299.25" y1="527" x2="299.25" y2="533.2" stroke="#222" stroke-width="1.45"/>
<line x1="295.9725" y1="527" x2="302.5275" y2="527" stroke="#222" stroke-width="1.45"/>
<line x1="299.25" y1="565" x2="299.25" y2="569.0" stroke="#222" stroke-width="1.45"/>
<text x="372.6" y="491.8" font-size="12" text-anchor="start" fill="#2a2a2a" textLength="27" lengthAdjust="spacingAndGlyphs" style="stroke:none">GMP</text>
<line x1="356" y1="499" x2="356" y2="564.125" stroke="#222" stroke-width="1.45"/>
<line x1="352.4" y1="563.4" x2="416.5" y2="563.4" stroke="#222" stroke-width="1.45"/>
<line x1="352.4" y1="502.6" x2="356" y2="502.6" stroke="#222" stroke-width="1.45"/>
<text x="348.09999999999997" y="506.27200000000005" font-size="10.2" text-anchor="end" fill="#2a2a2a" style="stroke:none">300</text>
<line x1="352.4" y1="522.8" x2="356" y2="522.8" stroke="#222" stroke-width="1.45"/>
<text x="348.09999999999997" y="526.472" font-size="10.2" text-anchor="end" fill="#2a2a2a" style="stroke:none">200</text>
<line x1="352.4" y1="543.1" x2="356" y2="543.1" stroke="#222" stroke-width="1.45"/>
<text x="348.09999999999997" y="546.772" font-size="10.2" text-anchor="end" fill="#2a2a2a" style="stroke:none">100</text>
<line x1="352.4" y1="563.4" x2="356" y2="563.4" stroke="#222" stroke-width="1.45"/>
<text x="348.09999999999997" y="567.072" font-size="10.2" text-anchor="end" fill="#2a2a2a" style="stroke:none">0</text>
<rect x="362.40" y="515.30" width="10.70" height="48.10" fill="#4b586c" stroke="#333c4c" stroke-width="0.8"/>
<line x1="367.75" y1="509.6" x2="367.75" y2="514.9" stroke="#222" stroke-width="1.45"/>
<line x1="364.4725" y1="509.6" x2="371.0275" y2="509.6" stroke="#222" stroke-width="1.45"/>
<line x1="367.75" y1="563.4" x2="367.75" y2="567.4" stroke="#222" stroke-width="1.45"/>
<rect x="380.40" y="518.80" width="11.20" height="44.60" fill="#36a936" stroke="#2a8a2c" stroke-width="0.8"/>
<line x1="386.0" y1="514.7" x2="386.0" y2="518.4" stroke="#222" stroke-width="1.45"/>
<line x1="382.58" y1="514.7" x2="389.42" y2="514.7" stroke="#222" stroke-width="1.45"/>
<line x1="386.0" y1="563.4" x2="386.0" y2="567.4" stroke="#222" stroke-width="1.45"/>
<rect x="398.90" y="524.60" width="10.70" height="38.80" fill="#ce032d" stroke="#a8021f" stroke-width="0.8"/>
<line x1="404.25" y1="518.4" x2="404.25" y2="524.2" stroke="#222" stroke-width="1.45"/>
<line x1="400.9725" y1="518.4" x2="407.5275" y2="518.4" stroke="#222" stroke-width="1.45"/>
<line x1="404.25" y1="563.4" x2="404.25" y2="567.4" stroke="#222" stroke-width="1.45"/>
<text transform="translate(114.7,465.9) rotate(-90)" x="-41.5" y="4.199999999999999" font-size="12" fill="#2a2a2a" textLength="83" lengthAdjust="spacingAndGlyphs"># cells in BM (x10<tspan dy="-4.5" font-size="8.5">3</tspan><tspan dy="4.5">)</tspan></text>
<text transform="translate(61.35,285.2) rotate(-45)" x="-34.3" y="0" font-size="10.5" fill="#2a2a2a" style="stroke-width:0.1px" textLength="34.3" lengthAdjust="spacingAndGlyphs">Control</text>
<text transform="translate(72.65,285.2) rotate(-45)" x="-40.5" y="0" font-size="10.5" fill="#2a2a2a" style="stroke-width:0.1px" textLength="40.5" lengthAdjust="spacingAndGlyphs">Tie2ΔEx7</text>
<text transform="translate(84.45,285.2) rotate(-45)" x="-67.8" y="0" font-size="10.5" fill="#2a2a2a" style="stroke-width:0.1px" textLength="67.8" lengthAdjust="spacingAndGlyphs">Tie2,LepRΔEx7</text>
<text transform="translate(158.3,285.2) rotate(-45)" x="-34.3" y="0" font-size="10.5" fill="#2a2a2a" style="stroke-width:0.1px" textLength="34.3" lengthAdjust="spacingAndGlyphs">Control</text>
<text transform="translate(169.8,285.2) rotate(-45)" x="-40.5" y="0" font-size="10.5" fill="#2a2a2a" style="stroke-width:0.1px" textLength="40.5" lengthAdjust="spacingAndGlyphs">Tie2ΔEx7</text>
<text transform="translate(181.5,285.2) rotate(-45)" x="-67.8" y="0" font-size="10.5" fill="#2a2a2a" style="stroke-width:0.1px" textLength="67.8" lengthAdjust="spacingAndGlyphs">Tie2,LepRΔEx7</text>
<text transform="translate(274.6,282.3) rotate(-45)" x="-35.5" y="0" font-size="10.5" fill="#2a2a2a" style="stroke-width:0.1px" textLength="35.5" lengthAdjust="spacingAndGlyphs">Control</text>
<text transform="translate(293.1,282.3) rotate(-45)" x="-41.5" y="0" font-size="10.5" fill="#2a2a2a" style="stroke-width:0.1px" textLength="41.5" lengthAdjust="spacingAndGlyphs">Tie2ΔEx7</text>
<text transform="translate(311.85,282.3) rotate(-45)" x="-68.5" y="0" font-size="10.5" fill="#2a2a2a" style="stroke-width:0.1px" textLength="68.5" lengthAdjust="spacingAndGlyphs">Tie2,LepRΔEx7</text>
<text transform="translate(427.1,280.1) rotate(-45)" x="-35" y="0" font-size="10.5" fill="#2a2a2a" style="stroke-width:0.1px" textLength="35" lengthAdjust="spacingAndGlyphs">Control</text>
<text transform="translate(445.6,280.1) rotate(-45)" x="-41.5" y="0" font-size="10.5" fill="#2a2a2a" style="stroke-width:0.1px" textLength="41.5" lengthAdjust="spacingAndGlyphs">Tie2ΔEx7</text>
<text transform="translate(463.95,280.1) rotate(-45)" x="-68" y="0" font-size="10.5" fill="#2a2a2a" style="stroke-width:0.1px" textLength="68" lengthAdjust="spacingAndGlyphs">Tie2,LepRΔEx7</text>
<rect x="0.5" y="0.5" width="519" height="578" fill="none" stroke="#3a3a3a" stroke-width="1"/>
</svg>
</body></html>
